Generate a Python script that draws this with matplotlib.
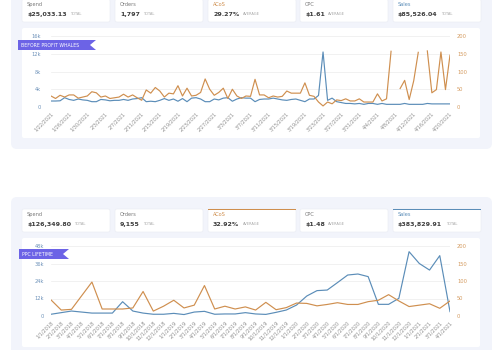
import numpy as np
import pandas as pd
import matplotlib
matplotlib.use('Agg')
import matplotlib.pyplot as plt
from matplotlib.patches import FancyBboxPatch, Polygon, Rectangle
from matplotlib.ticker import FuncFormatter

# --- top dashboard: daily, from 1/22/2021 ---
top_dates = pd.date_range('2021-01-22', periods=89, freq='D')
top_acos = [31, 24, 33, 28, 34, 34, 25, 28, 31, 43, 40, 28, 31, 24, 26, 28, 36, 28, 34, 26,
            19, 48, 39, 55, 45, 28, 39, 37, 60, 31, 53, 31, 33, 41, 79, 50, 33, 41, 53, 24,
            50, 31, 24, 31, 30, 78, 34, 34, 26, 31, 28, 30, 45, 39, 39, 39, 68, 33, 30, 14,
            3, 14, 9, 20, 18, 23, 17, 17, 23, 14, 14, 14, 37, 17, 23, 157, np.nan, 52, 75, 21,
            74, 154, np.nan, 158, 40, 49, 155, 49, 146]
top_sales = [1350, 1350, 1400, 2100, 1700, 1500, 1800, 1600, 1500, 1200, 1200, 1700, 1600, 1400, 1500,
             1500, 1700, 1500, 1800, 1900, 2100, 1200, 1300, 1200, 1500, 1900, 1500, 1800, 1300, 1900,
             1200, 2000, 2100, 1800, 1200, 1200, 1800, 1600, 2000, 2100, 1300, 1800, 2100, 2000, 2000,
             1200, 1700, 1800, 1800, 2000, 1800, 1600, 1500, 1700, 1800, 1500, 1200, 1800, 1800, 2600,
             12400, 1500, 2000, 1200, 1000, 800, 800, 700, 800, 600, 800, 800, 600, 800, 600,
             600, 600, 600, 800, 600, 600, 600, 600, 800, 700, 700, 700, 700, 700]
top_titles = ['Spend', 'Orders', 'ACoS', 'CPC', 'Sales']
top_values = ['$25,033.13', '1,797', '29.27%', '$1.61', '$85,526.04']
top_units = ['TOTAL', 'TOTAL', 'AVERAGE', 'AVERAGE', 'TOTAL']

# --- bottom dashboard: monthly, from 1/1/2018 ---
bot_dates = pd.date_range('2018-01-01', periods=40, freq='MS')
bot_acos = [46, 17, 19, 58, 97, 20, 20, 20, 23, 70, 14, 28, 45, 23, 31, 87, 20, 28, 20, 26,
            17, 39, 18, 24, 37, 36, 29, 33, 38, 33, 33, 41, 45, 61, 43, 27, 31, 35, 22, 43]
bot_sales = [1200, 2300, 3400, 2700, 2000, 2000, 2000, 9800, 3400, 2000, 1200, 1200, 1800, 1000,
             2700, 3200, 1200, 1400, 1400, 2300, 1400, 1100, 2500, 4100, 7500, 13700, 17400, 17800,
             22900, 28100, 28800, 27000, 8000, 8000, 12100, 44100, 36000, 31500, 41400, 3000]
bot_titles = ['Spend', 'Orders', 'ACoS', 'CPC', 'Sales']
bot_values = ['$126,349.80', '9,155', '32.92%', '$1.48', '$383,829.91']
bot_units = ['TOTAL', 'TOTAL', 'AVERAGE', 'AVERAGE', 'TOTAL']

BLUE = '#5b8db8'
ORANGE = '#cf8f4f'
PANEL = '#f2f4fb'
PURPLE = '#6c63e6'

fig = plt.figure(figsize=(5, 3.5), dpi=100)
fig.patch.set_facecolor('white')

# background layer in pixel units
bg = fig.add_axes([0, 0, 1, 1], zorder=0)
bg.set_xlim(0, 500)
bg.set_ylim(350, 0)
bg.axis('off')

# overlay layer for ribbons
fg = fig.add_axes([0, 0, 1, 1], zorder=10)
fg.set_xlim(0, 500)
fg.set_ylim(350, 0)
fg.axis('off')
fg.patch.set_alpha(0)


def box(x0, y0, x1, y1, fc, ec='none', r=3):
    bg.add_patch(FancyBboxPatch((x0, y0), x1 - x0, y1 - y0,
                                boxstyle=f'round,pad=0,rounding_size={r}',
                                fc=fc, ec=ec, lw=0.5))


card_x = [22, 115, 208, 300, 393]


def cards(titles, values, units, top, accent):
    for title, value, unit, x0 in zip(titles, values, units, card_x):
        box(x0, top, x0 + 88, top + 23, 'white', ec='#eceef4', r=2)
        col = {'ACoS': ORANGE, 'Sales': BLUE}.get(title, '#777777')
        if accent and title in ('ACoS', 'Sales'):
            bg.add_patch(Rectangle((x0, top - 0.5), 88, 1.6, fc=col, ec='none'))
        bg.text(x0 + 5, top + 5.5, title, fontsize=3.6, color=col, va='center')
        v = bg.text(x0 + 5, top + 15.5, value, fontsize=4.5, weight='bold',
                    color='#3c3c3c', va='center')
        bg.annotate(unit, xy=(1, 0.2), xycoords=v, xytext=(2.5, 0),
                    textcoords='offset points', fontsize=2.6, color='#a8a8a8', va='bottom')


def ribbon(x0, x1, y0, y1, label):
    pts = [(x0, y0), (x1, y0), (x1 - 6, (y0 + y1) / 2), (x1, y1), (x0, y1)]
    fg.add_patch(Polygon(pts, closed=True, fc=PURPLE, ec='none'))
    fg.text(x0 + 3, (y0 + y1) / 2 + 0.3, label, color='white', fontsize=3.3, va='center')


def kfmt(v, p):
    return '0' if v == 0 else f'{v / 1000:.0f}k'


def chart(rect, dates, sales, acos, ymax, step, every, lpad):
    x0, y0, x1, y1 = rect
    ax = fig.add_axes([x0 / 500, 1 - y1 / 350, (x1 - x0) / 500, (y1 - y0) / 350], zorder=5)
    ax.patch.set_alpha(0)
    x = np.arange(len(dates))
    ax.plot(x, sales, color=BLUE, lw=0.85)
    ax.set_xlim(0, len(dates) - 1)
    ax.set_ylim(0, ymax)
    ax.set_yticks(np.arange(0, ymax + 1, step))
    ax.yaxis.set_major_formatter(FuncFormatter(kfmt))
    ax.grid(axis='y', color='#ebebeb', lw=0.5)
    ax.set_xticks(x[::every])
    ax.set_xticklabels([f'{d.month}/{d.day}/{d.year}' for d in dates[::every]],
                       rotation=45, ha='right', va='top', rotation_mode='anchor')
    ax.tick_params(axis='x', length=0, labelsize=3.6, labelcolor='#8e8e8e', pad=3)
    ax.tick_params(axis='y', length=0, labelsize=3.7, labelcolor='#6f93ba', pad=lpad)

    ax2 = ax.twinx()
    ax2.plot(x, acos, color=ORANGE, lw=0.85)
    ax2.set_ylim(0, 200)
    ax2.set_yticks([0, 50, 100, 150, 200])
    ax2.tick_params(axis='y', length=0, labelsize=3.7, labelcolor='#d49a5e', pad=5)
    for a in (ax, ax2):
        for s in a.spines.values():
            s.set_visible(False)
    return ax


# top panel
box(11, -10, 492, 149, PANEL, r=6)
cards(top_titles, top_values, top_units, -1, False)
box(22, 28, 480, 138, 'white', r=2)
chart((51, 36, 450, 107), top_dates, top_sales, top_acos, 16000, 4000, 4, 7)
ribbon(18, 96, 40, 50, 'BEFORE PROFIT WHALES')

# bottom panel
box(11, 197, 492, 365, PANEL, r=6)
cards(bot_titles, bot_values, bot_units, 209, True)
box(22, 238, 480, 347, 'white', r=2)
chart((51, 246, 450, 316), bot_dates, bot_sales, bot_acos, 48000, 12000, 1, 5)
ribbon(19, 69, 249, 259, 'PPC LIFETIME')

fig.savefig('out.png', dpi=100)
